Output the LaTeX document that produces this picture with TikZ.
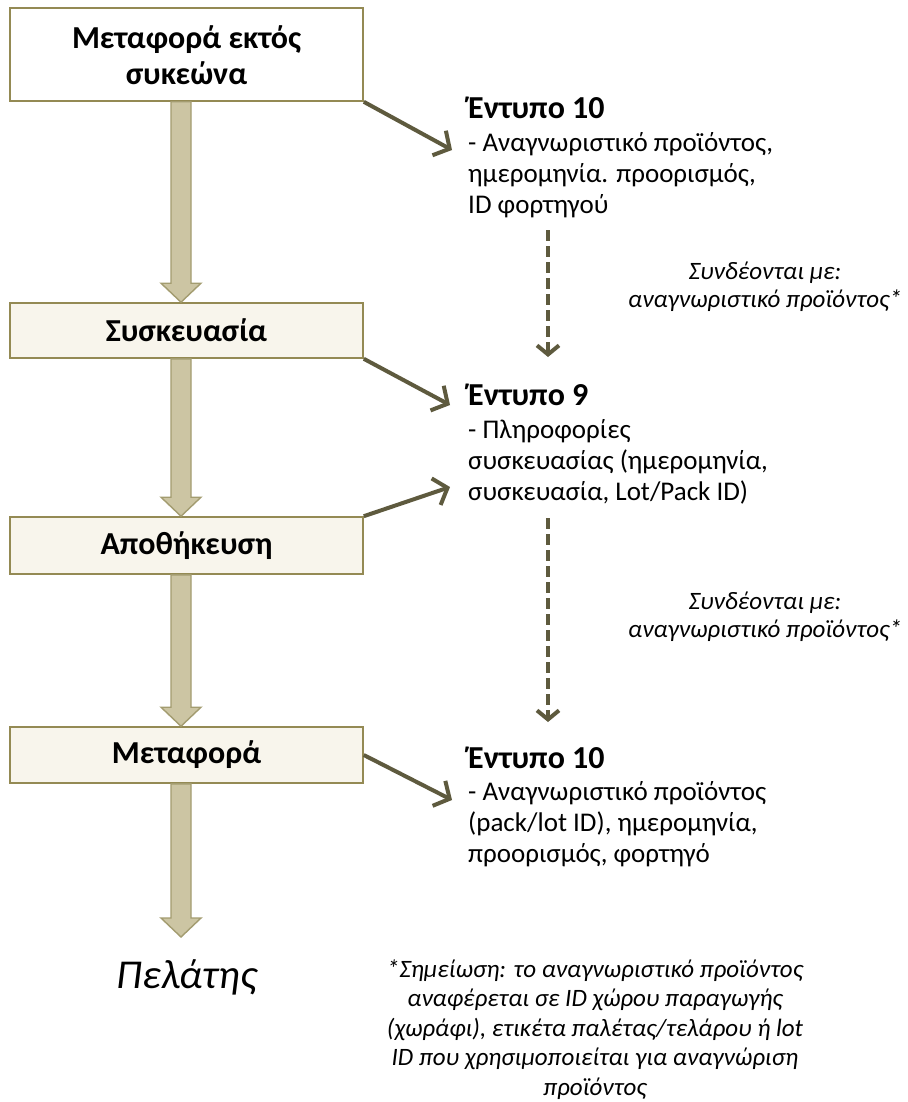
\documentclass[tikz,border=0pt]{standalone}
\usepackage{fontspec}
\setmainfont{Carlito}
\usetikzlibrary{arrows.meta,calc}
\definecolor{boxline}{RGB}{148,138,84}
\definecolor{boxfill}{RGB}{248,245,236}
\definecolor{blkfill}{RGB}{204,197,163}
\definecolor{blkline}{RGB}{163,156,112}
\definecolor{darkol}{RGB}{94,90,62}
\tikzset{
  stagebox/.style={draw=boxline, line width=1.6pt, fill=boxfill, minimum width=353pt, inner sep=0pt, align=center, font=\fontsize{32}{38}\selectfont\bfseries},
  blk/.style={draw=blkline, line width=1.4pt, fill=blkfill, line join=miter},
  diag/.style={draw=darkol, line width=4pt, -{Straight Barb[length=12pt,width=28pt]}},
  dashar/.style={draw=darkol, line width=4pt, dash pattern=on 11pt off 5pt, -{Straight Barb[length=9pt,width=22pt]}},
  formtext/.style={anchor=base west, inner sep=0pt, font=\fontsize{27}{31}\selectfont},
  linktext/.style={anchor=base, inner sep=0pt, font=\fontsize{25}{28}\selectfont\itshape},
}
\newcommand\blkarrow[2]{%
  \draw[blk] ($(#1)+(-10,0)$) -- ($(#2)+(-10,-19)$) -- ($(#2)+(-20,-19)$) -- (#2)
    -- ($(#2)+(20,-19)$) -- ($(#2)+(10,-19)$) -- ($(#1)+(10,0)$) -- cycle;}
\newcommand\hd[1]{\fontsize{32}{31}\selectfont\bfseries #1}
\begin{document}
\begin{tikzpicture}[x=1pt,y=-1pt]
\fill[white] (0,0) rectangle (907,1102);
\useasboundingbox (0,0) rectangle (907,1102);

% stage boxes
\node[stagebox, fill=white, minimum height=93pt, minimum width=353pt] (b1) at (186.5,54.5) {\raisebox{5.5pt}[0pt][0pt]{\fontsize{32}{36}\selectfont\begin{tabular}[t]{@{}c@{}}Μεταφορά εκτός\\συκεώνα\end{tabular}}};
\node[stagebox, minimum height=55pt] (b2) at (186.5,330.5) {Συσκευασία};
\node[stagebox, minimum height=57pt] (b3) at (186.5,545.5) {Αποθήκευση};
\node[stagebox, minimum height=56pt] (b4) at (186.5,755) {Μεταφορά};
\node[inner sep=0pt, font=\fontsize{41}{46}\selectfont\itshape] (cl) at (187,977) {Πελάτης};

% block arrows
\coordinate (ax) at (181,0);
\coordinate (s1) at (b1.south -| ax); \coordinate (t1) at (b2.north -| ax);
\coordinate (s2) at (b2.south -| ax); \coordinate (t2) at (b3.north -| ax);
\coordinate (s3) at (b3.south -| ax); \coordinate (t3) at (b4.north -| ax);
\coordinate (s4) at (b4.south -| ax); \coordinate (t4) at (181,937);
\blkarrow{s1}{t1}
\blkarrow{s2}{t2}
\blkarrow{s3}{t3}
\blkarrow{s4}{t4}

% forms
\node[formtext] (f1) at (468,119) {\begin{tabular}[t]{@{}l@{}}\hd{Έντυπο 10}\\[2pt]- Αναγνωριστικό προϊόντος,\\ημερομηνία. προορισμός,\\ID φορτηγού\end{tabular}};
\node[formtext] (f2) at (468,405) {\begin{tabular}[t]{@{}l@{}}\hd{Έντυπο 9}\\[2pt]- Πληροφορίες\\συσκευασίας (ημερομηνία,\\συσκευασία, Lot/Pack ID)\end{tabular}};
\node[formtext] (f3) at (468,768) {\begin{tabular}[t]{@{}l@{}}\hd{Έντυπο 10}\\[1pt]- Αναγνωριστικό προϊόντος\\(pack/lot ID), ημερομηνία,\\προορισμός, φορτηγό\end{tabular}};

% link labels
\node[linktext] (l1) at (765,279) {\begin{tabular}[t]{@{}c@{}}Συνδέονται με:\\αναγνωριστικό προϊόντος*\end{tabular}};
\node[linktext] (l2) at (765,609) {\begin{tabular}[t]{@{}c@{}}Συνδέονται με:\\αναγνωριστικό προϊόντος*\end{tabular}};

% note
\node[anchor=base, inner sep=0pt, font=\fontsize{25}{29.5}\selectfont\itshape] (note) at (595,977)
  {\begin{tabular}[t]{@{}c@{}}*Σημείωση: το αναγνωριστικό προϊόντος\\αναφέρεται σε ID χώρου παραγωγής\\(χωράφι), ετικέτα παλέτας/τελάρου ή lot\\ID που χρησιμοποιείται για αναγνώριση\\προϊόντος\end{tabular}};

% diagonal arrows
\coordinate (d1) at (452,150);
\coordinate (d2) at (450,405);
\coordinate (d3) at (450,487);
\coordinate (d4) at (452,800);
\draw[diag] (b1.south east) -- (d1);
\draw[diag] (b2.south east) -- (d2);
\draw[diag] (b3.north east) -- (d3);
\draw[diag] (b4.east) -- (d4);

% dashed arrows
\coordinate (e1s) at (548,230); \coordinate (e1t) at (548,357);
\coordinate (e2s) at (548,518); \coordinate (e2t) at (548,722);
\draw[dashar] (e1s) -- (e1t);
\draw[dashar] (e2s) -- (e2t);
\end{tikzpicture}
\end{document}
